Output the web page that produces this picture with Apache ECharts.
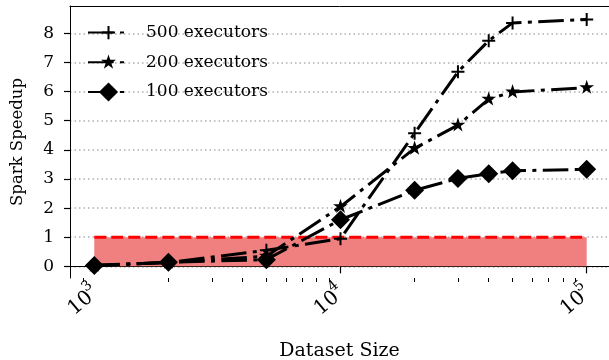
<!DOCTYPE html>
<html><head><meta charset="utf-8">
<script src="https://cdn.jsdelivr.net/npm/echarts@6/dist/echarts.min.js"></script>
<style>html,body{margin:0;padding:0;background:#fff}#c{width:609px;height:360px}</style>
</head><body><div id="c"></div>
<script>
// ---- data ----
const datasetSizes = [1000, 2000, 5000, 10000, 20000, 30000, 40000, 50000, 100000];
const speedup500 = [0.03, 0.13, 0.55, 0.95, 4.57, 6.68, 7.75, 8.36, 8.48];
const speedup200 = [0.03, 0.13, 0.35, 2.05, 4.05, 4.85, 5.74, 5.99, 6.14];
const speedup100 = [0.03, 0.14, 0.23, 1.60, 2.61, 3.02, 3.18, 3.28, 3.33];
const seriesNames = ['500 executors', '200 executors', '100 executors'];
const xMajorTicks = [1000, 10000, 100000];
const xTickExponents = ['3', '4', '5'];
const xMinorTicks = [900, 2000, 3000, 4000, 5000, 6000, 7000, 8000, 9000,
  20000, 30000, 40000, 50000, 60000, 70000, 80000, 90000];
const yTicks = [0, 1, 2, 3, 4, 5, 6, 7, 8];
const thresholdX = [1000, 100000];
const thresholdY = 1;

const FONT = 'DejaVu Serif';
const pairs = ys => datasetSizes.map((x, i) => [x, ys[i]]);
const dashDot = [25.6, 6.4, 4, 6.4];
// tiny invisible corner specks enlarge the bounding box so the visible glyph is smaller than symbolSize
const speck = (x, y) => 'M' + x + ',' + y + 'l0.01,0l-0.01,0.01z';
const plusPath = 'path://M5.5,0h2v5.5h5.5v2h-5.5v5.5h-2v-5.5h-5.5v-2h5.5z' + speck(-3, -3) + speck(16, 16);
const starPath = 'path://M0,-10L2.245,-3.09L9.51,-3.09L3.633,1.18L5.88,8.09L0,3.82L-5.88,8.09L-3.633,1.18L-9.51,-3.09L-2.245,-3.09Z' + speck(-12.2, -12.2) + speck(12.2, 12.2);

const xMin = Math.pow(10, 2.9013), xMax = Math.pow(10, 5.0906);

const chart = echarts.init(document.getElementById('c'), null, {renderer: 'canvas'});
chart.setOption({
  animation: false,
  backgroundColor: '#fff',
  textStyle: {fontFamily: FONT, color: '#000'},
  grid: {left: 70, right: 0, top: 6, bottom: 82, show: false, outerBoundsMode: 'none', containLabel: false},
  legend: {
    data: seriesNames, orient: 'vertical', left: 82, top: 18,
    itemWidth: 41, itemHeight: 24, itemGap: 10.5,
    textStyle: {fontFamily: FONT, fontSize: 17, color: '#000', padding: [0, 0, 0, 12]}
  },
  xAxis: [{
    type: 'log', logBase: 10, min: xMin, max: xMax,
    axisLine: {show: true, lineStyle: {color: '#000', width: 1}},
    axisTick: {show: true, length: 7, lineStyle: {color: '#000', width: 1.2}, customValues: xMajorTicks},
    axisLabel: {
      customValues: xMajorTicks, rotate: 40, margin: 10,
      formatter: v => '{b|10}{s|' + (xTickExponents[xMajorTicks.indexOf(Math.round(v))] || '') + '}',
      rich: {
        b: {fontFamily: FONT, fontSize: 20, color: '#000', width: 24, align: 'left', lineHeight: 26, verticalAlign: 'bottom'},
        s: {fontFamily: FONT, fontSize: 14, color: '#000', verticalAlign: 'top', lineHeight: 26}
      }
    },
    splitLine: {show: false}, minorTick: {show: false},
    name: 'Dataset Size', nameLocation: 'middle', nameGap: 64,
    nameTextStyle: {fontFamily: FONT, fontSize: 19, color: '#000'}
  }, {
    type: 'log', logBase: 10, min: xMin, max: xMax, position: 'bottom',
    axisLine: {show: false},
    axisTick: {show: true, length: 4, lineStyle: {color: '#000', width: 1}, customValues: xMinorTicks},
    axisLabel: {show: false}, splitLine: {show: false}
  }, {
    type: 'log', logBase: 10, min: xMin, max: xMax, position: 'top',
    axisLine: {show: true, lineStyle: {color: '#000', width: 1}},
    axisTick: {show: false}, axisLabel: {show: false}, splitLine: {show: false}
  }],
  yAxis: {
    type: 'value', min: -0.4, max: 8.94,
    axisLine: {show: true, lineStyle: {color: '#000', width: 1}},
    axisTick: {show: true, length: 6, lineStyle: {color: '#000', width: 1.2}, customValues: yTicks},
    axisLabel: {customValues: yTicks, margin: 16, fontFamily: FONT, fontSize: 17, color: '#000'},
    splitLine: {show: true, lineStyle: {color: '#b0b0b0', width: 1.5, type: [1.5, 3]}},
    name: 'Spark Speedup', nameLocation: 'middle', nameGap: 44,
    nameTextStyle: {fontFamily: FONT, fontSize: 16.5, color: '#000'}
  },
  series: [
    {
      name: 'threshold', type: 'line', z: 1, silent: true, symbol: 'none',
      data: thresholdX.map(x => [x, thresholdY]),
      lineStyle: {color: '#ff0000', width: 3, type: [12, 5]},
      areaStyle: {color: '#F08080', opacity: 1}
    },
    {
      name: seriesNames[0], type: 'line', z: 3, data: pairs(speedup500),
      symbol: plusPath, symbolSize: 19, symbolKeepAspect: true,
      itemStyle: {color: '#000', borderWidth: 0},
      lineStyle: {color: '#000', width: 3, type: dashDot}
    },
    {
      name: seriesNames[1], type: 'line', z: 4, data: pairs(speedup200),
      symbol: starPath, symbolSize: 19, symbolKeepAspect: true,
      itemStyle: {color: '#000', borderWidth: 0},
      lineStyle: {color: '#000', width: 3, type: dashDot}
    },
    {
      name: seriesNames[2], type: 'line', z: 5, data: pairs(speedup100),
      symbol: 'diamond', symbolSize: 19,
      itemStyle: {color: '#000', borderWidth: 0},
      lineStyle: {color: '#000', width: 3, type: dashDot}
    }
  ]
});
</script></body></html>
